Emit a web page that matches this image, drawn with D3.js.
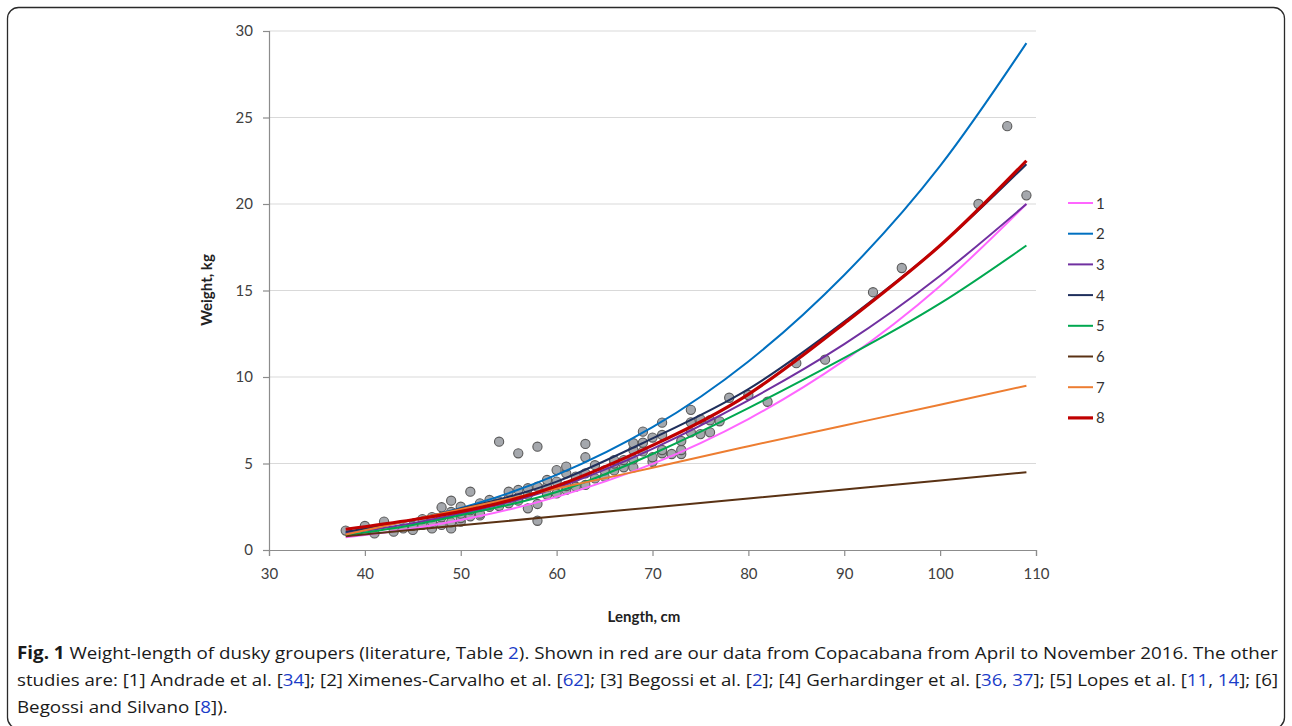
<!DOCTYPE html>
<html>
<head>
<meta charset="utf-8">
<script src="https://cdn.jsdelivr.net/npm/d3@7"></script>
<style>
  body { margin: 0; background: #fff; }
  svg { display: block; }
</style>
</head>
<body>
<div id="chart"></div>
<script>
// lengths (cm) at which the fitted curves were read
var lengths = [38, 45, 52, 60, 70, 80, 90, 100, 109];

// weight (kg)
var s1 = [0.73, 1.24, 1.96, 3.07, 4.98, 7.57, 10.96, 15.26, 20.0];
var s2 = [1.0, 1.73, 2.75, 4.34, 7.1, 10.9, 15.9, 22.2, 29.3];
var s3 = [0.95, 1.55, 2.35, 3.6, 5.85, 8.65, 11.9, 15.85, 20.0];
var s4 = [1.05, 1.75, 2.65, 3.95, 6.45, 9.3, 13.2, 17.6, 22.3];
var s5 = [0.85, 1.45, 2.25, 3.35, 5.55, 8.2, 11.1, 14.25, 17.6];
var s6 = [0.8, 1.17, 1.53, 1.95, 2.46, 2.98, 3.5, 4.02, 4.5];
var s7 = [0.9, 1.75, 2.6, 3.55, 4.75, 6.0, 7.2, 8.4, 9.5];
var s8 = [1.2, 1.75, 2.45, 3.7, 6.05, 9.0, 13.1, 17.6, 22.5];

var seriesNames = ["1", "2", "3", "4", "5", "6", "7", "8"];
var seriesColors = ["#ff66ff", "#0070c0", "#7030a0", "#1f2f5c", "#00a850", "#5a3214", "#ed7d31", "#c00000"];

// observed fish (length cm, weight kg)
var obsL = [38,40,41,42,43,44,45,45,46,46,47,47,47,48,48,48,49,49,49,49,50,50,50,50,51,51,51,
  52,52,52,52,53,53,54,54,54,55,55,55,56,56,56,56,57,57,57,58,58,58,58,59,59,59,60,60,60,
  61,61,61,61,62,62,63,63,63,63,64,64,65,65,66,66,66,67,67,68,68,68,68,69,69,69,70,70,70,
  71,71,71,71,72,73,73,73,74,74,74,75,75,76,76,77,78,80,82,85,88,93,96,104,107,109];
var obsW = [1.12,1.39,0.96,1.64,1.06,1.25,1.16,1.4,1.45,1.79,1.25,1.64,1.9,1.45,1.9,2.47,1.25,1.6,2.2,2.85,
  1.64,1.85,2.1,2.5,1.95,2.3,3.37,2.0,2.1,2.5,2.7,2.5,2.89,2.54,2.8,6.26,2.7,3.0,3.37,2.85,3.0,3.47,5.59,
  2.41,3.2,3.57,1.69,2.66,3.66,5.97,3.2,3.66,4.05,3.27,3.95,4.62,3.47,3.7,4.43,4.82,3.66,4.24,3.76,4.43,
  5.36,6.13,4.14,4.9,4.24,4.6,4.6,5.0,5.2,4.78,5.2,4.78,5.24,5.78,6.17,5.7,6.2,6.84,5.1,5.36,6.5,
  5.59,5.78,6.65,7.36,5.55,5.55,5.78,6.3,6.8,7.38,8.1,6.7,7.55,6.8,7.5,7.44,8.8,8.96,8.57,10.8,11.0,
  14.9,16.3,20.0,24.5,20.5];

var xTicks = [30, 40, 50, 60, 70, 80, 90, 100, 110];
var yTicks = [0, 5, 10, 15, 20, 25, 30];

var W = 1292, H = 726;
var svg = d3.select("#chart").append("svg").attr("width", W).attr("height", H);

// figure frame
svg.append("rect").attr("x", 7.5).attr("y", 7.5).attr("width", 1277).attr("height", 721)
  .attr("rx", 11).attr("fill", "none").attr("stroke", "#2a2a2a").attr("stroke-width", 1.3);

var x = d3.scaleLinear().domain([30, 110]).range([269, 1036]);
var y = d3.scaleLinear().domain([0, 30]).range([550, 31]);

var chartFont = "Lato, 'Open Sans', sans-serif";

// gridlines
svg.append("g").selectAll("line").data(yTicks.filter(function(d) { return d > 0; })).enter()
  .append("line")
  .attr("x1", x(30)).attr("x2", x(110))
  .attr("y1", function(d) { return y(d); }).attr("y2", function(d) { return y(d); })
  .attr("stroke", "#d9d9d9").attr("stroke-width", 1.2);

// axes
var yAxis = svg.append("g").attr("transform", "translate(" + x(30) + ",0)")
  .call(d3.axisLeft(y).tickValues(yTicks).tickSize(6).tickPadding(10));
var xAxis = svg.append("g").attr("transform", "translate(0," + y(0) + ")")
  .call(d3.axisBottom(x).tickValues(xTicks).tickSize(6).tickPadding(12));

[xAxis, yAxis].forEach(function(a) {
  a.select(".domain").attr("stroke", "#8c8c8c").attr("stroke-width", 1.2);
  a.selectAll(".tick line").attr("stroke", "#8c8c8c").attr("stroke-width", 1.2);
  a.selectAll(".tick text").attr("fill", "#404040").style("font-family", chartFont).style("font-size", "15px");
});
xAxis.selectAll(".tick text").attr("dy", "0.71em");

// axis titles
svg.append("text").attr("x", 644).attr("y", 622).attr("text-anchor", "middle")
  .style("font-family", chartFont).style("font-size", "15px").style("font-weight", "bold")
  .attr("fill", "#222").text("Length, cm");
svg.append("text").attr("transform", "translate(212,290) rotate(-90)").attr("text-anchor", "middle")
  .style("font-family", chartFont).style("font-size", "15px").style("font-weight", "bold")
  .attr("fill", "#222").text("Weight, kg");

// observed points
svg.append("g").selectAll("circle").data(obsL).enter().append("circle")
  .attr("cx", function(d) { return x(d); })
  .attr("cy", function(d, i) { return y(obsW[i]); })
  .attr("r", 4.6)
  .attr("fill", "#a5a8ad").attr("stroke", "#5a5a5a").attr("stroke-width", 1.1);

// fitted curves
var allSeries = [s1, s2, s3, s4, s5, s6, s7, s8];
var line = d3.line()
  .x(function(d, i) { return x(lengths[i]); })
  .y(function(d) { return y(d); })
  .curve(d3.curveNatural);

svg.append("g").selectAll("path").data(allSeries).enter().append("path")
  .attr("d", line)
  .attr("fill", "none")
  .attr("stroke", function(d, i) { return seriesColors[i]; })
  .attr("stroke-width", function(d, i) { return i === 7 ? 3.2 : 2; });

// legend
var legend = svg.append("g").selectAll("g").data(seriesNames).enter().append("g")
  .attr("transform", function(d, i) { return "translate(1068," + (203 + i * 30.7) + ")"; });
legend.append("line").attr("x1", 0).attr("x2", 25).attr("y1", 0).attr("y2", 0)
  .attr("stroke", function(d, i) { return seriesColors[i]; })
  .attr("stroke-width", function(d, i) { return i === 7 ? 3.2 : 2; });
legend.append("text").attr("x", 28).attr("y", 5.5).text(function(d) { return d; })
  .style("font-family", chartFont).style("font-size", "15px").attr("fill", "#333");

// caption
var link = "#1a3cc8";
var captionLines = [
  [["Fig. 1", "b"], [" Weight-length of dusky groupers (literature, Table ", ""], ["2", "l"],
   ["). Shown in red are our data from Copacabana from April to November 2016. The other", ""]],
  [["studies are: [1] Andrade et al. [", ""], ["34", "l"], ["]; [2] Ximenes-Carvalho et al. [", ""], ["62", "l"],
   ["]; [3] Begossi et al. [", ""], ["2", "l"], ["]; [4] Gerhardinger et al. [", ""], ["36", "l"], [", ", ""], ["37", "l"],
   ["]; [5] Lopes et al. [", ""], ["11", "l"], [", ", ""], ["14", "l"], ["]; [6]", ""]],
  [["Begossi and Silvano [", ""], ["8", "l"], ["]).", ""]]
];
var caption = svg.append("g");
var texts = captionLines.map(function(parts, li) {
  var t = caption.append("text").attr("x", 17).attr("y", 659 + li * 27)
    .style("font-family", "'Open Sans', sans-serif").style("font-size", "17px").attr("fill", "#1a1a1a");
  parts.forEach(function(p) {
    var ts = t.append("tspan").text(p[0]);
    if (p[1] === "b") ts.style("font-weight", "bold");
    if (p[1] === "l") ts.attr("fill", link);
  });
  return t;
});
// squeeze the lines the way the narrow caption face sets them
var ratio = 1261 / texts[0].node().getComputedTextLength();
texts.forEach(function(t, i) {
  var len = i === 1 ? 1261 : t.node().getComputedTextLength() * ratio;
  t.attr("textLength", len).attr("lengthAdjust", "spacingAndGlyphs");
});
</script>
</body>
</html>
